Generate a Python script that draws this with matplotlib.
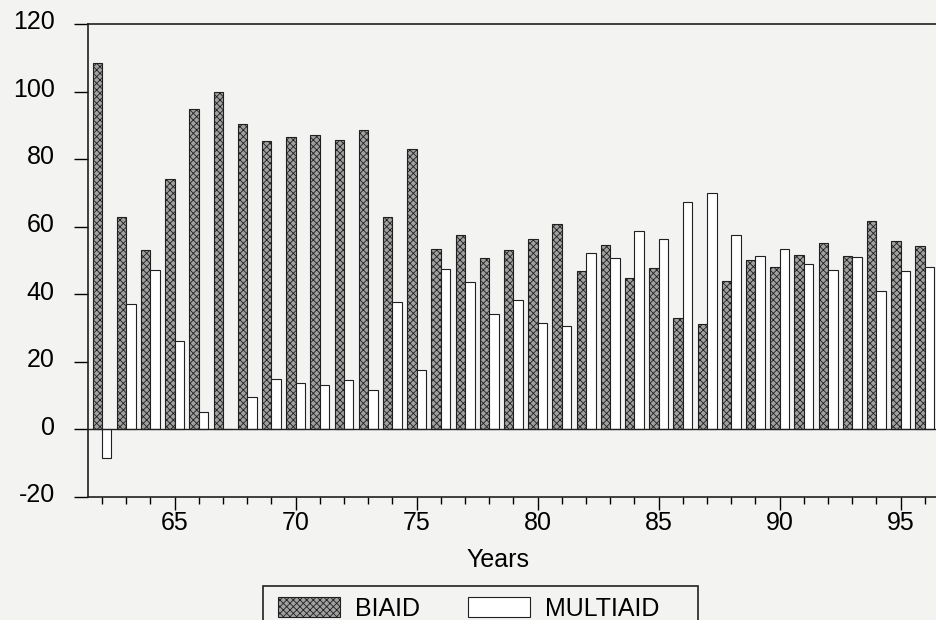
import matplotlib.pyplot as plt
import matplotlib.transforms as mtransforms
import numpy as np
from matplotlib.patches import Rectangle
from matplotlib.ticker import MultipleLocator

plt.rcParams['font.family'] = ['Liberation Sans', 'DejaVu Sans']
plt.rcParams['hatch.linewidth'] = 0.6
plt.rcParams['axes.unicode_minus'] = False

years = list(range(62, 97))
biaid = [108.5, 62.9, 53.0, 74.0, 94.7, 99.9, 90.5, 85.3, 86.6, 87.0,
         85.6, 88.6, 62.9, 83.1, 53.4, 57.4, 50.7, 53.0, 56.5, 60.7,
         47.0, 54.7, 44.7, 47.9, 33.0, 31.2, 43.8, 50.2, 48.1, 51.7,
         55.1, 51.3, 61.6, 55.8, 54.4]
multiaid = [-8.4, 37.2, 47.3, 26.1, 5.3, 0.0, 9.6, 15.0, 13.7, 13.2,
            14.7, 11.8, 37.7, 17.5, 47.4, 43.5, 34.1, 38.2, 31.5, 30.5,
            52.1, 50.7, 58.6, 56.4, 67.2, 70.0, 57.6, 51.2, 53.4, 49.0,
            47.2, 51.0, 41.1, 47.0, 48.0]

bg = '#f3f3f1'
fs = 18
W, H = 937, 620
fig = plt.figure(figsize=(W / 100, H / 100), dpi=100, facecolor=bg)
ax = fig.add_axes([88 / W, 1 - 497 / H, 849 / W, 473 / H])
ax.set_facecolor(bg)

x = np.array(years)
w = 0.39
ax.bar(x - w, biaid, width=w, align='edge', facecolor='#a0a0a0',
       edgecolor='#202020', hatch='xxxxx', linewidth=0.8, label='BIAID')
ax.bar(x, multiaid, width=w, align='edge', facecolor='white',
       edgecolor='#202020', linewidth=0.8, label='MULTIAID')

ax.axhline(0, color='#202020', linewidth=1.0)

ax.set_xlim(61.42, 96.5)
ax.set_ylim(-20, 120)
ax.set_yticks(range(-20, 121, 20))
ax.xaxis.set_major_locator(MultipleLocator(5))
ax.xaxis.set_minor_locator(MultipleLocator(1))

ax.tick_params(axis='y', length=10, width=1, labelsize=fs, pad=14, direction='out')
ax.tick_params(axis='x', which='major', length=9, width=1, labelsize=fs, pad=1)
ax.tick_params(axis='x', which='minor', length=5, width=1)

# y labels sit a little above their ticks in the original
up = mtransforms.ScaledTranslation(0, 3 / 72, fig.dpi_scale_trans)
for lab in ax.get_yticklabels():
    lab.set_transform(lab.get_transform() + up)

for s in ['left', 'bottom', 'top']:
    ax.spines[s].set_linewidth(1.2)
    ax.spines[s].set_color('#202020')
ax.spines['right'].set_visible(False)

fig.text(498 / W, 1 - 560 / H, 'Years', ha='center', va='center', fontsize=fs)

# legend entries without frame, box drawn separately (it has wide right padding)
leg = fig.legend(loc='upper left', bbox_to_anchor=(270 / W, 1 - 589 / H),
                 ncol=2, fontsize=fs, frameon=False,
                 handlelength=2.5, handleheight=0.9,
                 handletextpad=0.6, columnspacing=1.9, borderpad=0.3,
                 borderaxespad=0)
fig.patches.append(Rectangle((263 / W, 1 - 626 / H), (698 - 263) / W, 40 / H,
                             transform=fig.transFigure, facecolor='none',
                             edgecolor='#202020', linewidth=1.2))

plt.savefig('out.png', dpi=100, facecolor=bg)
